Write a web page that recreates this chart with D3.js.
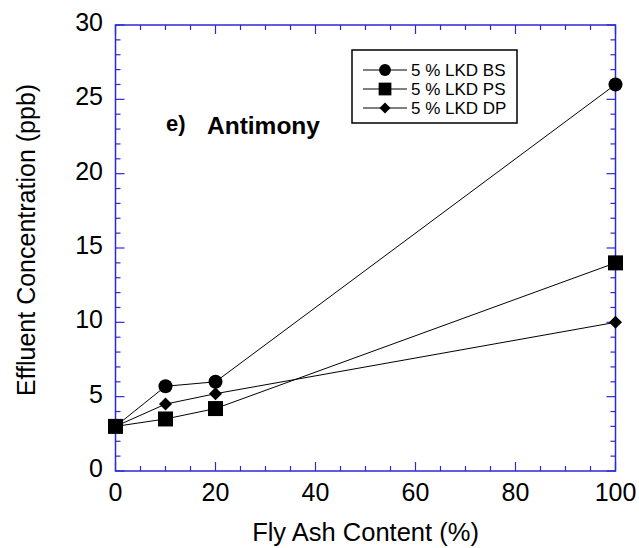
<!DOCTYPE html>
<html>
<head>
<meta charset="utf-8">
<script src="https://cdn.jsdelivr.net/npm/d3@7"></script>
<style>
  body { margin: 0; background: #fff; }
  text { font-family: "Liberation Sans", Arial, sans-serif; }
</style>
</head>
<body>
<svg width="639" height="548"></svg>
<script>
// data
let flyAsh = [0, 10, 20, 100];
let bsValues = [3, 5.7, 6, 26];
let psValues = [3, 3.5, 4.2, 14];
let dpValues = [3, 4.5, 5.2, 10];
let seriesNames = ["5 % LKD BS", "5 % LKD PS", "5 % LKD DP"];
let xTicks = [0, 20, 40, 60, 80, 100];
let yTicks = [0, 5, 10, 15, 20, 25, 30];

let s = d3.select("svg");
let axisColor = "#2a2ad4";

let x = d3.scaleLinear().domain([0, 100]).range([115.5, 615.5]);
let y = d3.scaleLinear().domain([0, 30]).range([471, 25]);

// frame
s.append("rect")
    .attr("x", x(0)).attr("y", y(30))
    .attr("width", x(100) - x(0)).attr("height", y(0) - y(30))
    .attr("fill", "none").attr("stroke", axisColor).attr("stroke-width", 1.5);

// ticks pointing inwards, on all four sides
let xMinor = d3.range(0, 101, 5);
let yMinor = d3.range(0, 31, 1);
xMinor.forEach(v => {
    let len = v % 20 === 0 ? 9 : 5;
    s.append("line").attr("x1", x(v)).attr("x2", x(v)).attr("y1", y(0)).attr("y2", y(0) - len)
        .attr("stroke", axisColor).attr("stroke-width", 1.2);
    s.append("line").attr("x1", x(v)).attr("x2", x(v)).attr("y1", y(30)).attr("y2", y(30) + len)
        .attr("stroke", axisColor).attr("stroke-width", 1.2);
});
yMinor.forEach(v => {
    let len = v % 5 === 0 ? 9 : 5;
    s.append("line").attr("y1", y(v)).attr("y2", y(v)).attr("x1", x(0)).attr("x2", x(0) + len)
        .attr("stroke", axisColor).attr("stroke-width", 1.2);
    s.append("line").attr("y1", y(v)).attr("y2", y(v)).attr("x1", x(100)).attr("x2", x(100) - len)
        .attr("stroke", axisColor).attr("stroke-width", 1.2);
});

// tick labels
s.selectAll(".xlab").data(xTicks).enter().append("text")
    .attr("x", d => x(d)).attr("y", 501)
    .attr("text-anchor", "middle").attr("font-size", 25).attr("fill", "#000")
    .text(d => d);
s.selectAll(".ylab").data(yTicks).enter().append("text")
    .attr("x", 103).attr("y", d => y(d) + 6)
    .attr("text-anchor", "end").attr("font-size", 25).attr("fill", "#000")
    .text(d => d);

// axis titles
s.append("text").attr("x", x(50)).attr("y", 541)
    .attr("text-anchor", "middle").attr("font-size", 25.5).text("Fly Ash Content (%)");
s.append("text").attr("transform", "translate(35,240) rotate(-90)")
    .attr("text-anchor", "middle").attr("font-size", 25).text("Effluent Concentration (ppb)");

// annotation
s.append("text").attr("x", 166).attr("y", 131).attr("font-size", 22).attr("font-weight", "bold").text("e)");
s.append("text").attr("x", 207).attr("y", 134).attr("font-size", 24.5).attr("font-weight", "bold").text("Antimony");

// series
let series = [
    { name: seriesNames[0], values: bsValues, shape: "circle" },
    { name: seriesNames[1], values: psValues, shape: "square" },
    { name: seriesNames[2], values: dpValues, shape: "diamond" }
];

let drawMarker = (g, shape, cx, cy, k) => {
    if (shape === "circle") {
        g.append("circle").attr("cx", cx).attr("cy", cy).attr("r", 7 * k).attr("fill", "#000");
    } else if (shape === "square") {
        let h = 7.5 * k;
        g.append("rect").attr("x", cx - h).attr("y", cy - h).attr("width", 2 * h).attr("height", 2 * h).attr("fill", "#000");
    } else {
        let h = 6.5 * k;
        g.append("path")
            .attr("d", "M" + cx + "," + (cy - h) + " L" + (cx + h) + "," + cy + " L" + cx + "," + (cy + h) + " L" + (cx - h) + "," + cy + " Z")
            .attr("fill", "#000");
    }
};

let line = d3.line().x(d => x(d[0])).y(d => y(d[1]));

series.forEach(sr => {
    let pts = flyAsh.map((f, i) => [f, sr.values[i]]);
    s.append("path").attr("d", line(pts)).attr("fill", "none").attr("stroke", "#000").attr("stroke-width", 1);
});
series.forEach(sr => {
    let g = s.append("g");
    flyAsh.forEach((f, i) => drawMarker(g, sr.shape, x(f), y(sr.values[i]), 1));
});

// legend
let lg = s.append("g");
lg.append("rect").attr("x", 352).attr("y", 50).attr("width", 165).attr("height", 73)
    .attr("fill", "#fff").attr("stroke", "#000").attr("stroke-width", 1.5);
series.forEach((sr, i) => {
    let cy = 70 + i * 19;
    lg.append("line").attr("x1", 363).attr("x2", 407).attr("y1", cy).attr("y2", cy)
        .attr("stroke", "#000").attr("stroke-width", 1);
    drawMarker(lg, sr.shape, 385, cy, 0.85);
    lg.append("text").attr("x", 411).attr("y", cy + 6).attr("font-size", 17).text(sr.name);
});
</script>
</body>
</html>
